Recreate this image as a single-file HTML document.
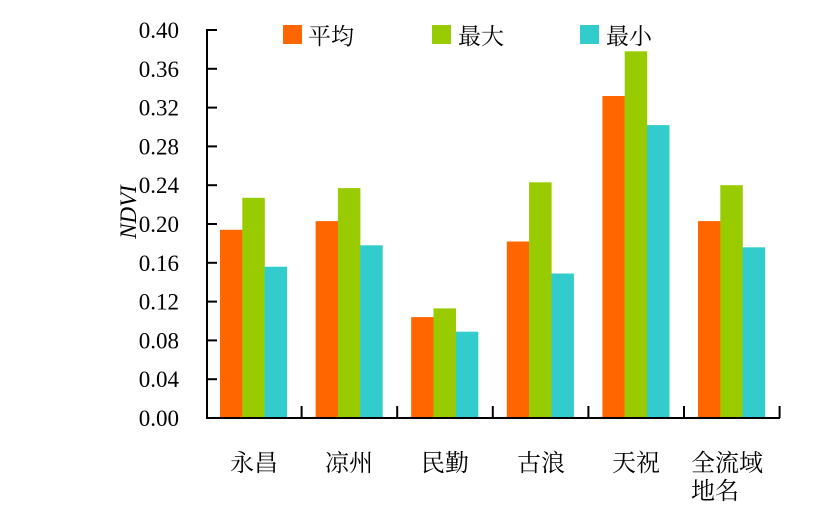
<!DOCTYPE html>
<html><head><meta charset="utf-8"><style>body{margin:0;background:#fff}svg text{font-family:"Liberation Serif","Noto Serif CJK SC",serif}</style></head><body>
<svg width="835" height="513" xmlns="http://www.w3.org/2000/svg">
<g>
<rect x="220" y="229.8" width="22.5" height="188.2" fill="#FF6600"/>
<rect x="242.3" y="197.8" width="22.5" height="220.2" fill="#99CC00"/>
<rect x="264.6" y="266.7" width="22.5" height="151.3" fill="#33CCCC"/>
<rect x="315.6" y="221.1" width="22.5" height="196.9" fill="#FF6600"/>
<rect x="337.9" y="188.1" width="22.5" height="229.9" fill="#99CC00"/>
<rect x="360.2" y="245.3" width="22.5" height="172.7" fill="#33CCCC"/>
<rect x="411.2" y="317.1" width="22.5" height="100.9" fill="#FF6600"/>
<rect x="433.5" y="308.4" width="22.5" height="109.6" fill="#99CC00"/>
<rect x="455.8" y="331.7" width="22.5" height="86.3" fill="#33CCCC"/>
<rect x="506.8" y="241.5" width="22.5" height="176.5" fill="#FF6600"/>
<rect x="529.1" y="182.3" width="22.5" height="235.7" fill="#99CC00"/>
<rect x="551.4" y="273.5" width="22.5" height="144.5" fill="#33CCCC"/>
<rect x="602.4" y="96" width="22.5" height="322" fill="#FF6600"/>
<rect x="624.7" y="51.3" width="22.5" height="366.7" fill="#99CC00"/>
<rect x="647" y="125.1" width="22.5" height="292.9" fill="#33CCCC"/>
<rect x="698" y="221.1" width="22.5" height="196.9" fill="#FF6600"/>
<rect x="720.3" y="185.2" width="22.5" height="232.8" fill="#99CC00"/>
<rect x="742.6" y="247.3" width="22.5" height="170.7" fill="#33CCCC"/>
</g>
<g stroke="#000" stroke-width="2">
<line x1="206" x2="217" y1="418" y2="418"/><line x1="206" x2="217" y1="379.2" y2="379.2"/>
<line x1="206" x2="217" y1="340.4" y2="340.4"/><line x1="206" x2="217" y1="301.6" y2="301.6"/>
<line x1="206" x2="217" y1="262.8" y2="262.8"/><line x1="206" x2="217" y1="224" y2="224"/>
<line x1="206" x2="217" y1="185.2" y2="185.2"/><line x1="206" x2="217" y1="146.4" y2="146.4"/>
<line x1="206" x2="217" y1="107.6" y2="107.6"/><line x1="206" x2="217" y1="68.8" y2="68.8"/>
<line x1="206" x2="217" y1="30" y2="30"/>
<line x1="301.6" x2="301.6" y1="418" y2="406"/><line x1="397.2" x2="397.2" y1="418" y2="406"/>
<line x1="492.8" x2="492.8" y1="418" y2="406"/><line x1="588.4" x2="588.4" y1="418" y2="406"/>
<line x1="684" x2="684" y1="418" y2="406"/><line x1="779.6" x2="779.6" y1="418" y2="406"/>
<line x1="207" y1="29" x2="207" y2="419"/>
<line x1="206" y1="418" x2="780" y2="418"/>
</g>
<g font-size="23" text-anchor="end">
<text x="179" y="426">0.00</text><text x="179" y="387.2">0.04</text>
<text x="179" y="348.4">0.08</text><text x="179" y="309.6">0.12</text>
<text x="179" y="270.8">0.16</text><text x="179" y="232">0.20</text>
<text x="179" y="193.2">0.24</text><text x="179" y="154.4">0.28</text>
<text x="179" y="115.6">0.32</text><text x="179" y="76.8">0.36</text>
<text x="179" y="38">0.40</text>
</g>
<text transform="translate(136,212) rotate(-90)" font-size="23" font-style="italic" text-anchor="middle">NDVI</text>
<rect x="283" y="25" width="19" height="19" fill="#FF6600"/><text x="308" y="44" font-size="23">平均</text>
<rect x="432" y="25" width="19" height="19" fill="#99CC00"/><text x="458" y="44" font-size="23">最大</text>
<rect x="580" y="25" width="19" height="19" fill="#33CCCC"/><text x="606" y="44" font-size="23">最小</text>
<g font-size="24" text-anchor="middle">
<text x="254" y="471">永昌</text><text x="349" y="471">凉州</text><text x="445" y="471">民勤</text>
<text x="541" y="471">古浪</text><text x="636" y="471">天祝</text>
</g>
<text x="691" y="471" font-size="24">全流域</text><text x="691" y="499" font-size="24">地名</text>
</svg>
</body></html>
